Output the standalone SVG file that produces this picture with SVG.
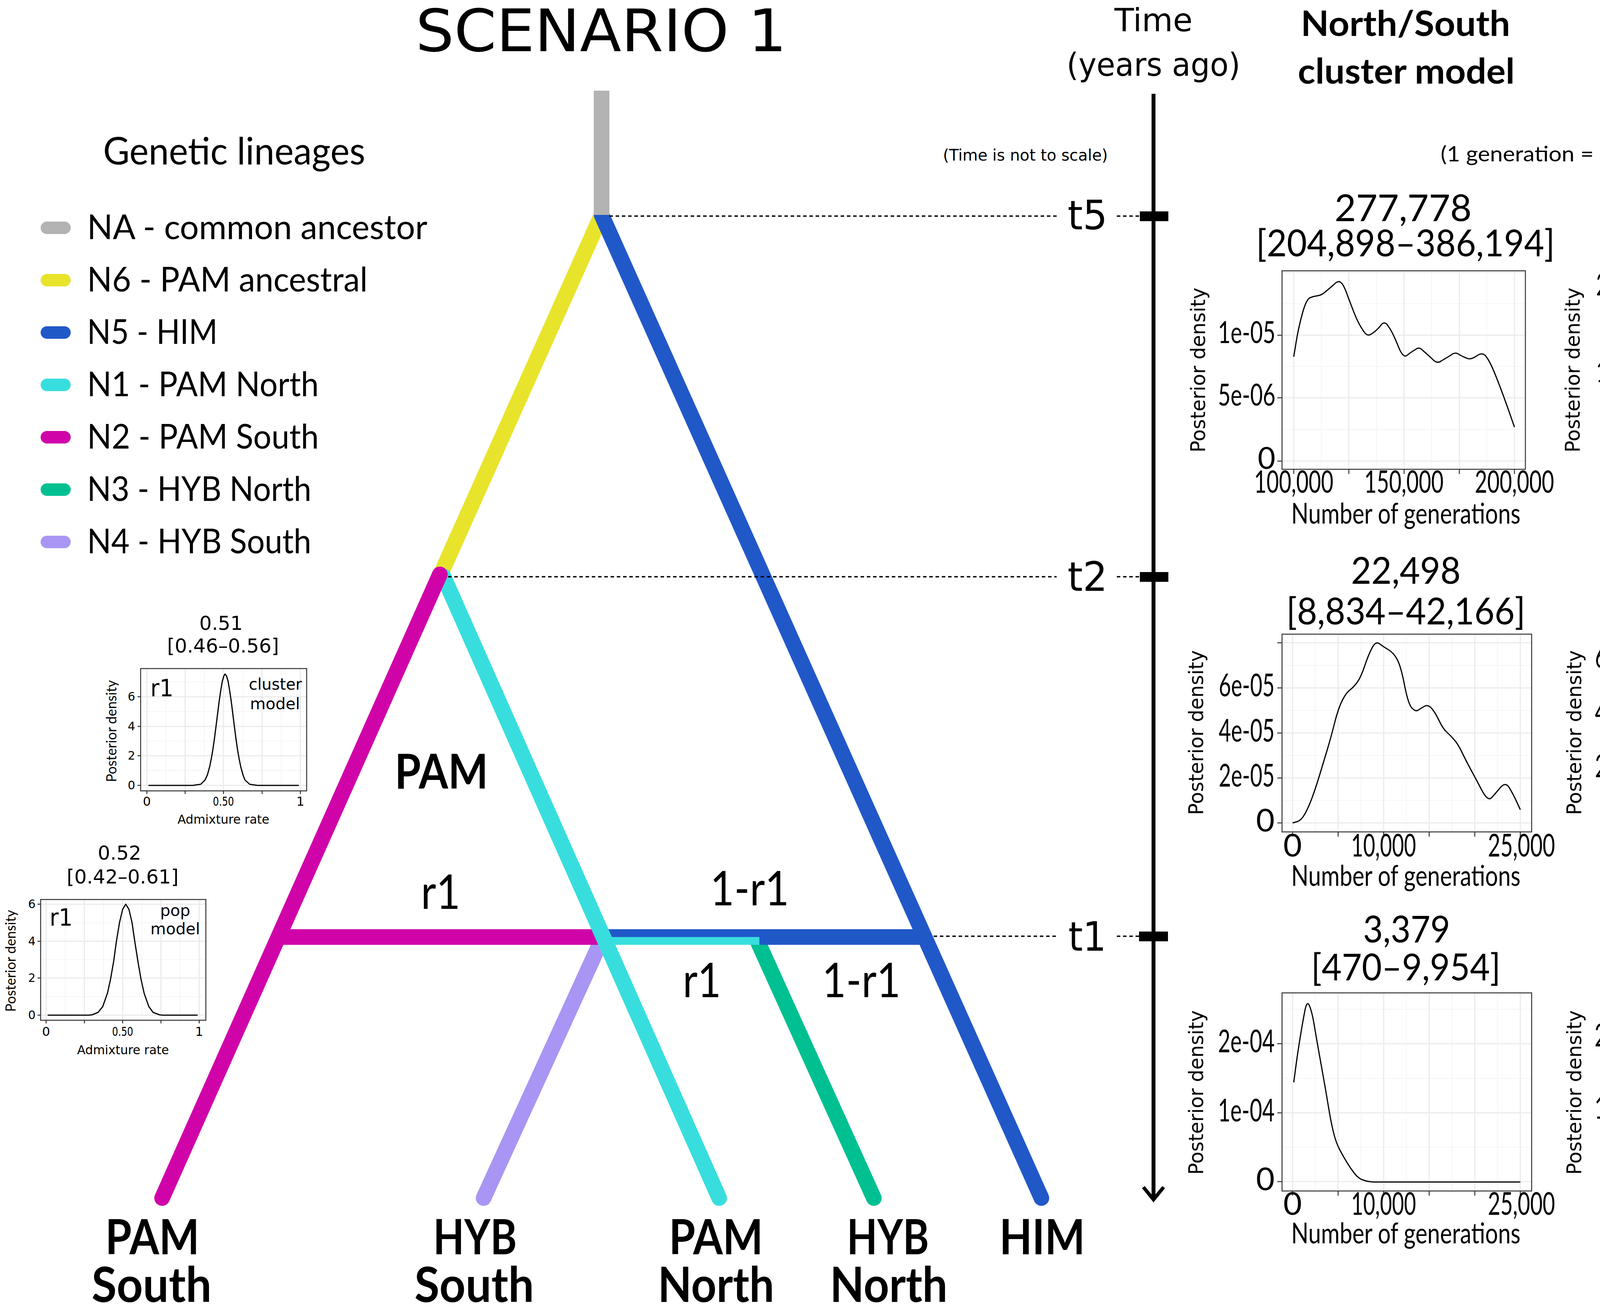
<svg xmlns="http://www.w3.org/2000/svg" width="4979" height="3350" viewBox="0 0 4979 3350">
<style>
.dv{font-family:"DejaVu Sans",Verdana,sans-serif}
.ca{font-family:Lato,"Liberation Sans",sans-serif}
.b{font-weight:bold}
.m{text-anchor:middle}
.e{text-anchor:end}
.g1{stroke:#ebebeb;stroke-width:3;fill:none}
.g2{stroke:#f3f3f3;stroke-width:1.6;fill:none}
.box{fill:none;stroke:#333;stroke-width:2.5}
.tk{stroke:#333;stroke-width:2.5;fill:none}
.cv{fill:none;stroke:#000;stroke-width:3;stroke-linejoin:round}
.ln{fill:none;stroke-width:40;stroke-linecap:round}
.dot{stroke:#000;stroke-width:3.5;stroke-dasharray:9 7;fill:none}
.sw{stroke:none}
</style>
<rect x="0" y="0" width="4979" height="3350" fill="#fff"/>
<text id="title" class="dv" x="1064" y="131" font-size="150" textLength="950" lengthAdjust="spacingAndGlyphs">SCENARIO 1</text>

<g id="legend">
<text class="ca" x="264" y="421" font-size="96" textLength="671" lengthAdjust="spacingAndGlyphs">Genetic lineages</text>
<rect class="sw" x="104" y="567" width="77" height="32" rx="16" fill="#b3b3b3"/>
<text class="ca" x="223" y="612" font-size="88" textLength="871" lengthAdjust="spacingAndGlyphs">NA - common ancestor</text>
<rect class="sw" x="104" y="701" width="77" height="32" rx="16" fill="#e8e42c"/>
<text class="ca" x="223" y="746" font-size="88" textLength="718" lengthAdjust="spacingAndGlyphs">N6 - PAM ancestral</text>
<rect class="sw" x="104" y="835" width="77" height="32" rx="16" fill="#2158c8"/>
<text class="ca" x="223" y="880" font-size="88" textLength="334" lengthAdjust="spacingAndGlyphs">N5 - HIM</text>
<rect class="sw" x="104" y="969" width="77" height="32" rx="16" fill="#38dede"/>
<text class="ca" x="223" y="1014" font-size="88" textLength="593" lengthAdjust="spacingAndGlyphs">N1 - PAM North</text>
<rect class="sw" x="104" y="1103" width="77" height="32" rx="16" fill="#d003a9"/>
<text class="ca" x="223" y="1148" font-size="88" textLength="593" lengthAdjust="spacingAndGlyphs">N2 - PAM South</text>
<rect class="sw" x="104" y="1237" width="77" height="32" rx="16" fill="#00c092"/>
<text class="ca" x="223" y="1282" font-size="88" textLength="574" lengthAdjust="spacingAndGlyphs">N3 - HYB North</text>
<rect class="sw" x="104" y="1371" width="77" height="32" rx="16" fill="#a995f3"/>
<text class="ca" x="223" y="1416" font-size="88" textLength="574" lengthAdjust="spacingAndGlyphs">N4 - HYB South</text>
</g>

<g id="connectors">
<path id="n6-yellow" class="ln" stroke="#e8e42c" d="M1540 550 L1128 1470"/>
<path id="n5-blue" class="ln" stroke="#2158c8" d="M1540 550 L2666 3066"/>
<rect id="na-stem" x="1520" y="232" width="40" height="318" fill="#b3b3b3"/>
<path id="n4-purple" class="ln" stroke="#a995f3" d="M1538 2410 L1238 3066"/>
<path id="n3-green" class="ln" stroke="#00c092" d="M1940 2410 L2237 3066"/>
<rect id="bar-magenta" x="712" y="2378" width="833" height="40" fill="#d003a9"/>
<rect id="bar-blue" x="1545" y="2378" width="822" height="40" fill="#2158c8"/>
<rect id="bar-cyan" x="1545" y="2398" width="399" height="20" fill="#38dede"/>
<path id="n1-cyan" class="ln" stroke="#38dede" d="M1135 1475 L1841 3066"/>
<path id="n2-magenta" class="ln" stroke="#d003a9" d="M1126 1470 L415 3066"/>
<path class="dot" d="M1560 553 H2705 M2859 553 H2918 M1147 1476 H2705 M2859 1476 H2918 M2390 2396 H2707 M2859 2396 H2916"/>
</g>

<g id="tree-labels">
<text class="ca b m" x="1130" y="2018" font-size="122" textLength="239" lengthAdjust="spacingAndGlyphs">PAM</text>
<text class="ca m" x="1128" y="2326" font-size="122" textLength="101" lengthAdjust="spacingAndGlyphs">r1</text>
<text class="ca m" x="1919" y="2317" font-size="122" textLength="202" lengthAdjust="spacingAndGlyphs">1-r1</text>
<text class="ca m" x="1797" y="2552" font-size="122" textLength="98" lengthAdjust="spacingAndGlyphs">r1</text>
<text class="ca m" x="2205" y="2552" font-size="122" textLength="201" lengthAdjust="spacingAndGlyphs">1-r1</text>
</g>

<g id="node-pam-south"><text class="ca b m" x="390" y="3210" font-size="124" textLength="241" lengthAdjust="spacingAndGlyphs">PAM</text><text class="ca b m" x="388" y="3332" font-size="124" textLength="307" lengthAdjust="spacingAndGlyphs">South</text></g>
<g id="node-hyb-south"><text class="ca b m" x="1216" y="3210" font-size="124" textLength="214" lengthAdjust="spacingAndGlyphs">HYB</text><text class="ca b m" x="1214" y="3332" font-size="124" textLength="306" lengthAdjust="spacingAndGlyphs">South</text></g>
<g id="node-pam-north"><text class="ca b m" x="1833" y="3210" font-size="124" textLength="241" lengthAdjust="spacingAndGlyphs">PAM</text><text class="ca b m" x="1833" y="3332" font-size="124" textLength="298" lengthAdjust="spacingAndGlyphs">North</text></g>
<g id="node-hyb-north"><text class="ca b m" x="2273" y="3210" font-size="124" textLength="210" lengthAdjust="spacingAndGlyphs">HYB</text><text class="ca b m" x="2275" y="3332" font-size="124" textLength="301" lengthAdjust="spacingAndGlyphs">North</text></g>
<g id="node-him"><text class="ca b m" x="2668" y="3210" font-size="124" textLength="219" lengthAdjust="spacingAndGlyphs">HIM</text></g>

<g id="time-axis">
<text class="dv m" x="2953" y="80" font-size="82" textLength="200" lengthAdjust="spacingAndGlyphs">Time</text>
<text class="dv m" x="2953" y="194" font-size="82" textLength="445" lengthAdjust="spacingAndGlyphs">(years ago)</text>
<text class="dv" x="2414" y="411" font-size="40" textLength="422" lengthAdjust="spacingAndGlyphs">(Time is not to scale)</text>
<line x1="2953" y1="240" x2="2953" y2="3070" stroke="#000" stroke-width="10"/>
<polyline points="2927,3038 2953,3070 2979,3038" fill="none" stroke="#000" stroke-width="9" stroke-linejoin="miter"/>
<rect x="2918" y="541" width="73" height="25" fill="#000"/>
<rect x="2918" y="1464" width="73" height="25" fill="#000"/>
<rect x="2916" y="2384" width="74" height="25" fill="#000"/>
<text class="dv" x="2733" y="587" font-size="104" textLength="102" lengthAdjust="spacingAndGlyphs">t5</text>
<text class="dv" x="2733" y="1512" font-size="104" textLength="102" lengthAdjust="spacingAndGlyphs">t2</text>
<text class="dv" x="2735" y="2433" font-size="104" textLength="97" lengthAdjust="spacingAndGlyphs">t1</text>
</g>

<g id="headers">
<text class="ca b m" x="3598" y="92" font-size="90" textLength="536" lengthAdjust="spacingAndGlyphs">North/South</text>
<text class="ca b m" x="3600" y="214" font-size="90" textLength="555" lengthAdjust="spacingAndGlyphs">cluster model</text>
<text class="ca b m" x="4505" y="92" font-size="90" textLength="523" lengthAdjust="spacingAndGlyphs">North/South</text>
<text class="ca b m" x="4505" y="214" font-size="90" textLength="727" lengthAdjust="spacingAndGlyphs">population model</text>
<text class="ca m" x="3991" y="413" font-size="55" textLength="606" lengthAdjust="spacingAndGlyphs">(1 generation = 2 years)</text>
</g>

<g id="plot-t5-cluster">
<text class="ca m" x="3592" y="566" font-size="95" textLength="351" lengthAdjust="spacingAndGlyphs">277,778</text>
<text class="ca m" x="3598" y="656" font-size="95" textLength="765" lengthAdjust="spacingAndGlyphs">[204,898–386,194]</text>
<path class="g2" d="M3382.6 693V1201M3524 693V1201M3665 693V1201M3806 693V1201M3282 1099H3905M3282 938H3905M3282 777H3905"/>
<path class="g1" d="M3312 693V1201M3453 693V1201M3594.5 693V1201M3736 693V1201M3877 693V1201M3282 1180H3905M3282 1018H3905M3282 858H3905M3282 697H3905"/>
<rect class="box" x="3282" y="693" width="623" height="508"/>
<path class="tk" d="M3270 1180H3282M3270 1018H3282M3270 858H3282M3312 1201V1213M3453 1201V1213M3594.5 1201V1213M3736 1201V1213M3877 1201V1213"/>
<path class="cv" d="M3312 913L3318 876Q3324 839 3334 802.5Q3344 766 3353.5 762Q3363 758 3372.5 757Q3382 756 3391.5 748Q3401 740 3413.5 729.5Q3426 716 3432.5 723Q3439 727 3448.5 753Q3458 779 3467.5 803Q3477 827 3488.5 844Q3500 864 3511 854.5Q3522 848 3533 835Q3544 818 3554 835Q3564 848 3578 882.5Q3592 920 3603 908.5Q3614 900 3623.5 894.5Q3633 886 3643 897.5Q3653 906 3666 918Q3679 933 3690 923.5Q3701 917 3713.5 909.5Q3726 899 3735.5 907.5Q3745 913 3754.5 916.5Q3764 922 3780 911Q3796 899 3805.5 914Q3815 926 3831 966.5Q3847 1007 3862 1050L3877 1093"/>
<text class="ca e" x="3265" y="1200" font-size="78">0</text>
<text class="ca e" x="3265" y="1038" font-size="78" textLength="147" lengthAdjust="spacingAndGlyphs">5e-06</text>
<text class="ca e" x="3265" y="878" font-size="78" textLength="147" lengthAdjust="spacingAndGlyphs">1e-05</text>
<text class="ca m" x="3312" y="1261" font-size="80" textLength="203" lengthAdjust="spacingAndGlyphs">100,000</text>
<text class="ca m" x="3594" y="1261" font-size="80" textLength="203" lengthAdjust="spacingAndGlyphs">150,000</text>
<text class="ca m" x="3877" y="1261" font-size="80" textLength="203" lengthAdjust="spacingAndGlyphs">200,000</text>
<text class="ca m" x="3599" y="1340" font-size="74" textLength="587" lengthAdjust="spacingAndGlyphs">Number of generations</text>
<text class="dv m" transform="translate(3085 947) rotate(-90)" font-size="52" textLength="422" lengthAdjust="spacingAndGlyphs">Posterior density</text>
</g>

<g id="plot-t5-pop">
<text class="ca m" x="4566" y="566" font-size="95" textLength="319" lengthAdjust="spacingAndGlyphs">253,261</text>
<text class="ca m" x="4561" y="656" font-size="95" textLength="765" lengthAdjust="spacingAndGlyphs">[203,068–365,878]</text>
<path class="g2" d="M4342.75 697V1192M4484 697V1192M4625.75 697V1192M4767 697V1192M4243 1125H4865M4243 1014H4865M4243 903H4865M4243 792H4865"/>
<path class="g1" d="M4272 697V1192M4413.5 697V1192M4555 697V1192M4696.5 697V1192M4838 697V1192M4243 1181H4865M4243 1070H4865M4243 958H4865M4243 848H4865M4243 736H4865"/>
<rect class="box" x="4243" y="697" width="622" height="495"/>
<path class="tk" d="M4231 1181H4243M4231 1070H4243M4231 958H4243M4231 848H4243M4231 736H4243M4272 1192V1204M4413.5 1192V1204M4555 1192V1204M4696.5 1192V1204M4838 1192V1204"/>
<path class="cv" d="M4272 913L4279.5 859Q4287 805 4293.5 773Q4300 741 4305 728.5Q4310 716 4318 732.5Q4326 749 4338.5 777Q4351 805 4364 818Q4377 831 4393 839.5Q4409 848 4421.5 847Q4434 846 4443.5 853.5Q4453 861 4466 884.5Q4479 908 4488.5 921Q4498 934 4514 940.5Q4530 947 4542.5 968.5Q4555 990 4574.5 1011.5Q4594 1033 4609.5 1039.5Q4625 1046 4638 1057Q4651 1068 4667 1083Q4683 1098 4695.5 1102Q4708 1106 4721 1108.5Q4734 1111 4746.5 1121.5Q4759 1132 4775 1136.5Q4791 1141 4804 1145Q4817 1149 4827.5 1156.5L4838 1164"/>
<text class="ca e" x="4226" y="1201" font-size="78">0</text>
<text class="ca e" x="4226" y="978" font-size="78" textLength="140" lengthAdjust="spacingAndGlyphs">1e-05</text>
<text class="ca e" x="4226" y="756" font-size="78" textLength="140" lengthAdjust="spacingAndGlyphs">2e-05</text>
<text class="ca m" x="4272" y="1261" font-size="80" textLength="203" lengthAdjust="spacingAndGlyphs">100,000</text>
<text class="ca m" x="4555" y="1261" font-size="80" textLength="203" lengthAdjust="spacingAndGlyphs">150,000</text>
<text class="ca m" x="4838" y="1261" font-size="80" textLength="203" lengthAdjust="spacingAndGlyphs">200,000</text>
<text class="ca m" x="4564" y="1340" font-size="74" textLength="587" lengthAdjust="spacingAndGlyphs">Number of generations</text>
<text class="dv m" transform="translate(4044 947) rotate(-90)" font-size="52" textLength="422" lengthAdjust="spacingAndGlyphs">Posterior density</text>
</g>

<g id="plot-t2-cluster">
<text class="ca m" x="3599" y="1494" font-size="95" textLength="281" lengthAdjust="spacingAndGlyphs">22,498</text>
<text class="ca m" x="3599" y="1598" font-size="95" textLength="612" lengthAdjust="spacingAndGlyphs">[8,834–42,166]</text>
<path class="g2" d="M3367.3 1623V2129M3483.9 1623V2129M3600.5 1623V2129M3717.1 1623V2129M3833.7 1623V2129M3282 2048.5H3921M3282 1933.5H3921M3282 1818H3921M3282 1703H3921"/>
<path class="g1" d="M3309 1623V2129M3425.6 1623V2129M3542.2 1623V2129M3658.8 1623V2129M3775.4 1623V2129M3892 1623V2129M3282 2106H3921M3282 1991H3921M3282 1876H3921M3282 1760.5H3921M3282 1645H3921"/>
<rect class="box" x="3282" y="1623" width="639" height="506"/>
<path class="tk" d="M3270 2106H3282M3270 1991H3282M3270 1876H3282M3270 1760.5H3282M3270 1645H3282M3309 2129V2141M3425.6 2129V2141M3542.2 2129V2141M3658.8 2129V2141M3775.4 2129V2141M3892 2129V2141"/>
<path class="cv" d="M3309 2106L3320 2103Q3331 2100 3340.5 2083Q3350 2066 3359.5 2040Q3369 2014 3378.5 1982.5Q3388 1951 3397.5 1919.5Q3407 1888 3416.5 1850.5Q3426 1813 3436 1793Q3446 1773 3455.5 1766Q3465 1759 3474.5 1746Q3484 1733 3493.5 1704.5Q3503 1676 3512.5 1658Q3522 1640 3531.5 1647.5Q3541 1655 3554 1662.5Q3567 1670 3576.5 1687Q3586 1704 3595.5 1753Q3605 1802 3614.5 1812Q3624 1822 3630.5 1817.5Q3637 1813 3646.5 1807.5Q3656 1802 3665.5 1813.5Q3675 1825 3684.5 1845Q3694 1865 3703.5 1873.5Q3713 1882 3723 1893.5Q3733 1905 3742.5 1925Q3752 1945 3764.5 1968Q3777 1991 3793 2021.5Q3809 2052 3818.5 2041.5Q3828 2031 3841 2015.5Q3854 2000 3863.5 2015.5Q3873 2031 3882.5 2051.5L3892 2072"/>
<text class="ca e" x="3263" y="2128" font-size="82">0</text>
<text class="ca e" x="3263" y="2013" font-size="82" textLength="143" lengthAdjust="spacingAndGlyphs">2e-05</text>
<text class="ca e" x="3263" y="1898" font-size="82" textLength="143" lengthAdjust="spacingAndGlyphs">4e-05</text>
<text class="ca e" x="3263" y="1782" font-size="82" textLength="143" lengthAdjust="spacingAndGlyphs">6e-05</text>
<text class="ca m" x="3309" y="2192" font-size="82">0</text>
<text class="ca m" x="3542" y="2192" font-size="82" textLength="166" lengthAdjust="spacingAndGlyphs">10,000</text>
<text class="ca m" x="3895" y="2192" font-size="82" textLength="172" lengthAdjust="spacingAndGlyphs">25,000</text>
<text class="ca m" x="3599" y="2267" font-size="74" textLength="587" lengthAdjust="spacingAndGlyphs">Number of generations</text>
<text class="dv m" transform="translate(3080 1875) rotate(-90)" font-size="52" textLength="422" lengthAdjust="spacingAndGlyphs">Posterior density</text>
</g>

<g id="plot-t2-pop">
<text class="ca m" x="4562" y="1494" font-size="95" textLength="268" lengthAdjust="spacingAndGlyphs">29,243</text>
<text class="ca m" x="4565" y="1598" font-size="95" textLength="657" lengthAdjust="spacingAndGlyphs">[12,408–47,180]</text>
<path class="g2" d="M4333.4 1623V2129M4450.2 1623V2129M4567 1623V2129M4683.8 1623V2129M4800.6 1623V2129M4249 2036.5H4887M4249 1897.5H4887M4249 1757.5H4887"/>
<path class="g1" d="M4275 1623V2129M4391.8 1623V2129M4508.6 1623V2129M4625.4 1623V2129M4742.2 1623V2129M4859 1623V2129M4249 2106H4887M4249 1967H4887M4249 1828H4887M4249 1687H4887"/>
<rect class="box" x="4249" y="1623" width="638" height="506"/>
<path class="tk" d="M4237 2106H4249M4237 1967H4249M4237 1828H4249M4237 1687H4249M4275 2129V2141M4391.8 2129V2141M4508.6 2129V2141M4625.4 2129V2141M4742.2 2129V2141M4859 2129V2141"/>
<path class="cv" d="M4275 2106L4287.5 2104.5Q4300 2103 4316 2097.5Q4332 2092 4345 2084.5Q4358 2077 4367.5 2060Q4377 2043 4383 2025.5Q4389 2008 4399 1991Q4409 1974 4421.5 1954Q4434 1934 4443.5 1914Q4453 1894 4462.5 1853.5Q4472 1813 4482 1793Q4492 1773 4501.5 1756Q4511 1739 4520.5 1704.5Q4530 1670 4538 1655Q4546 1640 4554 1647.5Q4562 1655 4571.5 1661Q4581 1667 4590.5 1662.5Q4600 1658 4607.5 1654Q4615 1650 4623.5 1660Q4632 1670 4641.5 1693Q4651 1716 4663.5 1737Q4676 1758 4686 1745.5Q4696 1733 4706.5 1710.5Q4717 1688 4725.5 1694.5Q4734 1701 4743.5 1722.5Q4753 1744 4762.5 1773Q4772 1802 4781.5 1803.5Q4791 1805 4804 1812Q4817 1819 4826.5 1839Q4836 1859 4847.5 1916.5L4859 1974"/>
<text class="ca e" x="4230" y="2128" font-size="82">0</text>
<text class="ca e" x="4230" y="1989" font-size="82" textLength="147" lengthAdjust="spacingAndGlyphs">2e-05</text>
<text class="ca e" x="4230" y="1850" font-size="82" textLength="147" lengthAdjust="spacingAndGlyphs">4e-05</text>
<text class="ca e" x="4230" y="1709" font-size="82" textLength="147" lengthAdjust="spacingAndGlyphs">6e-05</text>
<text class="ca m" x="4275" y="2192" font-size="82">0</text>
<text class="ca m" x="4508" y="2192" font-size="82" textLength="166" lengthAdjust="spacingAndGlyphs">10,000</text>
<text class="ca m" x="4861" y="2192" font-size="82" textLength="172" lengthAdjust="spacingAndGlyphs">25,000</text>
<text class="ca m" x="4561" y="2267" font-size="74" textLength="587" lengthAdjust="spacingAndGlyphs">Number of generations</text>
<text class="dv m" transform="translate(4048 1875) rotate(-90)" font-size="52" textLength="422" lengthAdjust="spacingAndGlyphs">Posterior density</text>
</g>

<g id="plot-t1-cluster">
<text class="ca m" x="3601" y="2412" font-size="95" textLength="223" lengthAdjust="spacingAndGlyphs">3,379</text>
<text class="ca m" x="3599" y="2509" font-size="95" textLength="485" lengthAdjust="spacingAndGlyphs">[470–9,954]</text>
<path class="g2" d="M3367.3 2541V3048M3483.9 2541V3048M3600.5 2541V3048M3717.1 2541V3048M3833.7 2541V3048M3282 2936H3921M3282 2760H3921M3282 2583H3921"/>
<path class="g1" d="M3309 2541V3048M3425.6 2541V3048M3542.2 2541V3048M3658.8 2541V3048M3775.4 2541V3048M3892 2541V3048M3282 3024H3921M3282 2848H3921M3282 2671H3921"/>
<rect class="box" x="3282" y="2541" width="639" height="507"/>
<path class="tk" d="M3270 3024H3282M3270 2848H3282M3270 2671H3282M3309 3048V3060M3425.6 3048V3060M3542.2 3048V3060M3658.8 3048V3060M3775.4 3048V3060M3892 3048V3060"/>
<path class="cv" d="M3312 2770L3317 2732Q3322 2694 3328.5 2654.5Q3335 2615 3340.5 2586.5Q3346 2558 3352.5 2574.5Q3359 2591 3364 2621Q3369 2651 3375.5 2687.5Q3382 2724 3388.5 2760.5Q3395 2797 3401 2833.5Q3407 2870 3413.5 2897Q3420 2924 3429.5 2942Q3439 2960 3448.5 2975.5Q3458 2991 3467.5 3003Q3477 3015 3487 3019Q3497 3023 3506.5 3024L3516 3025L3892 3025"/>
<text class="ca e" x="3263" y="3046" font-size="82">0</text>
<text class="ca e" x="3263" y="2870" font-size="82" textLength="145" lengthAdjust="spacingAndGlyphs">1e-04</text>
<text class="ca e" x="3263" y="2693" font-size="82" textLength="145" lengthAdjust="spacingAndGlyphs">2e-04</text>
<text class="ca m" x="3309" y="3109" font-size="82">0</text>
<text class="ca m" x="3542" y="3109" font-size="82" textLength="166" lengthAdjust="spacingAndGlyphs">10,000</text>
<text class="ca m" x="3895" y="3109" font-size="82" textLength="172" lengthAdjust="spacingAndGlyphs">25,000</text>
<text class="ca m" x="3599" y="3182" font-size="74" textLength="587" lengthAdjust="spacingAndGlyphs">Number of generations</text>
<text class="dv m" transform="translate(3080 2796) rotate(-90)" font-size="52" textLength="421" lengthAdjust="spacingAndGlyphs">Posterior density</text>
</g>

<g id="plot-t1-pop">
<text class="ca m" x="4551" y="2412" font-size="95" textLength="223" lengthAdjust="spacingAndGlyphs">3,152</text>
<text class="ca m" x="4562" y="2509" font-size="95" textLength="536" lengthAdjust="spacingAndGlyphs">[276–11,440]</text>
<path class="g2" d="M4335.1 2542V3050M4449.3 2542V3050M4563.5 2542V3050M4677.7 2542V3050M4791.9 2542V3050M4253 2933.5H4874M4253 2748.5H4874M4253 2563.5H4874"/>
<path class="g1" d="M4278 2542V3050M4392.2 2542V3050M4506.4 2542V3050M4620.6 2542V3050M4734.8 2542V3050M4849 2542V3050M4253 3026H4874M4253 2841H4874M4253 2656H4874"/>
<rect class="box" x="4253" y="2542" width="621" height="508"/>
<path class="tk" d="M4241 3026H4253M4241 2841H4253M4241 2656H4253M4278 3050V3062M4392.2 3050V3062M4506.4 3050V3062M4620.6 3050V3062M4734.8 3050V3062M4849 3050V3062"/>
<path class="cv" d="M4281 2724L4287.5 2669.5Q4294 2615 4300 2586.5Q4306 2558 4312.5 2574.5Q4319 2591 4325.5 2627Q4332 2663 4341.5 2711.5Q4351 2760 4360.5 2802.5Q4370 2845 4379.5 2878.5Q4389 2912 4399 2933Q4409 2954 4421.5 2972.5Q4434 2991 4447 3002.5Q4460 3014 4472.5 3016Q4485 3018 4498 3019Q4511 3020 4523.5 3022Q4536 3024 4552 3025L4568 3026L4849 3026"/>
<text class="ca e" x="4226" y="3048" font-size="82">0</text>
<text class="ca e" x="4226" y="2863" font-size="82" textLength="144" lengthAdjust="spacingAndGlyphs">1e-04</text>
<text class="ca e" x="4226" y="2678" font-size="82" textLength="144" lengthAdjust="spacingAndGlyphs">2e-04</text>
<text class="ca m" x="4278" y="3109" font-size="82">0</text>
<text class="ca m" x="4506" y="3109" font-size="82" textLength="166" lengthAdjust="spacingAndGlyphs">10,000</text>
<text class="ca m" x="4855" y="3109" font-size="82" textLength="172" lengthAdjust="spacingAndGlyphs">25,000</text>
<text class="ca m" x="4561" y="3182" font-size="74" textLength="587" lengthAdjust="spacingAndGlyphs">Number of generations</text>
<text class="dv m" transform="translate(4048 2796) rotate(-90)" font-size="52" textLength="421" lengthAdjust="spacingAndGlyphs">Posterior density</text>
</g>

<g id="inset-r1-cluster">
<text class="dv m" x="566" y="1612" font-size="50">0.51</text>
<text class="dv m" x="571" y="1670" font-size="50">[0.46–0.56]</text>
<path class="g2" d="M425 1711V2024M523 1711V2024M622 1711V2024M720 1711V2024M360 1972H785M360 1896.5H785M360 1821H785M360 1745H785"/>
<path class="g1" d="M376 1711V2024M474 1711V2024M572 1711V2024M671 1711V2024M769 1711V2024M360 2010H785M360 1934H785M360 1859H785M360 1783H785"/>
<rect class="box" x="360" y="1711" width="425" height="313" stroke-width="2"/>
<path class="tk" stroke-width="2" d="M352 2010H360M352 1934H360M352 1859H360M352 1783H360M376 2024V2032M474 2024V2032M572 2024V2032M671 2024V2032M769 2024V2032"/>
<polyline class="cv" stroke-width="2.5" points="380,2010 494,2010 514,2007 525,1996 531,1983 537,1961 541,1941 545,1918 549,1890 553,1859 557,1827 561,1795 565,1768 569,1744 573,1730 576,1725 580,1730 584,1744 588,1768 592,1795 596,1827 600,1859 604,1890 608,1918 612,1941 616,1961 622,1983 627,1996 639,2007 659,2010 765,2010"/>
<text class="dv" x="385" y="1782" font-size="60" textLength="59" lengthAdjust="spacingAndGlyphs">r1</text>
<text class="dv e" x="773" y="1765" font-size="40" textLength="136" lengthAdjust="spacingAndGlyphs">cluster</text>
<text class="dv e" x="768" y="1815" font-size="40" textLength="128" lengthAdjust="spacingAndGlyphs">model</text>
<text class="dv e" x="346" y="2020" font-size="30">0</text>
<text class="dv e" x="346" y="1944" font-size="30">2</text>
<text class="dv e" x="346" y="1869" font-size="30">4</text>
<text class="dv e" x="346" y="1793" font-size="30">6</text>
<text class="dv m" x="376" y="2062" font-size="32">0</text>
<text class="dv m" x="572" y="2062" font-size="32" textLength="54" lengthAdjust="spacingAndGlyphs">0.50</text>
<text class="dv m" x="769" y="2062" font-size="32">1</text>
<text class="dv m" x="572" y="2108" font-size="32" textLength="235" lengthAdjust="spacingAndGlyphs">Admixture rate</text>
<text class="ca m" transform="translate(298 1871) rotate(-90)" font-size="36" textLength="261" lengthAdjust="spacingAndGlyphs">Posterior density</text>
</g>

<g id="inset-r1-pop">
<text class="dv m" x="306" y="2200" font-size="50">0.52</text>
<text class="dv m" x="314" y="2261" font-size="50">[0.42–0.61]</text>
<path class="g2" d="M167 2302V2611M265 2302V2611M363 2302V2611M461 2302V2611M104 2550.5H527M104 2456H527M104 2361.5H527"/>
<path class="g1" d="M118 2302V2611M216 2302V2611M314 2302V2611M412 2302V2611M510 2302V2611M104 2598H527M104 2503H527M104 2409H527M104 2314H527"/>
<rect class="box" x="104" y="2302" width="423" height="309" stroke-width="2"/>
<path class="tk" stroke-width="2" d="M96 2598H104M96 2503H104M96 2409H104M96 2314H104M118 2611V2619M216 2611V2619M314 2611V2619M412 2611V2619M510 2611V2619"/>
<polyline class="cv" stroke-width="2.5" points="122,2598 228,2598 236,2597 251,2591 263,2576 275,2542 283,2506 291,2460 298,2409 306,2361 314,2327 322,2314 330,2327 338,2361 345,2409 353,2460 361,2506 369,2542 381,2576 392,2591 408,2597 416,2598 506,2598"/>
<text class="dv" x="127" y="2369" font-size="60" textLength="59" lengthAdjust="spacingAndGlyphs">r1</text>
<text class="dv e" x="487" y="2344" font-size="40" textLength="77" lengthAdjust="spacingAndGlyphs">pop</text>
<text class="dv e" x="512" y="2391" font-size="40" textLength="127" lengthAdjust="spacingAndGlyphs">model</text>
<text class="dv e" x="91" y="2608" font-size="30">0</text>
<text class="dv e" x="91" y="2513" font-size="30">2</text>
<text class="dv e" x="91" y="2419" font-size="30">4</text>
<text class="dv e" x="91" y="2324" font-size="30">6</text>
<text class="dv m" x="118" y="2651" font-size="32">0</text>
<text class="dv m" x="314" y="2651" font-size="32" textLength="54" lengthAdjust="spacingAndGlyphs">0.50</text>
<text class="dv m" x="510" y="2651" font-size="32">1</text>
<text class="dv m" x="315" y="2698" font-size="32" textLength="235" lengthAdjust="spacingAndGlyphs">Admixture rate</text>
<text class="ca m" transform="translate(40 2459) rotate(-90)" font-size="36" textLength="261" lengthAdjust="spacingAndGlyphs">Posterior density</text>
</g>
</svg>
